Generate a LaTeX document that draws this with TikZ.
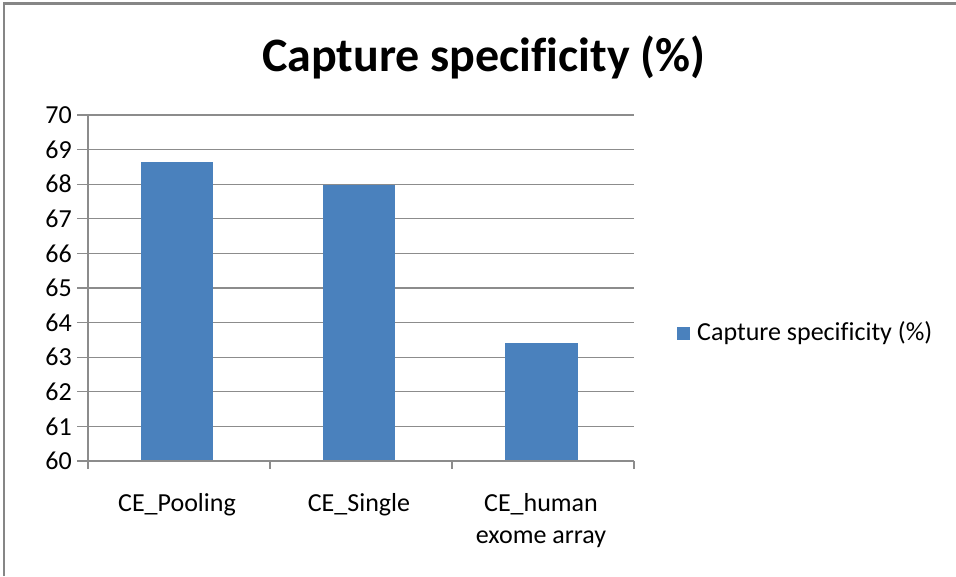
\documentclass[tikz,border=0pt]{standalone}
\usepackage{fontspec}
\setmainfont{Carlito}[Ligatures=NoCommon]
\definecolor{barblue}{HTML}{4A81BD}
\definecolor{gridgray}{HTML}{8C8C8C}
\definecolor{framegray}{HTML}{868686}
\begin{document}
\begin{tikzpicture}[x=1pt,y=-1pt,
  grid/.style={draw=gridgray,line width=1.3pt},
  ticklab/.style={anchor=east,inner sep=0pt,font=\fontsize{26}{28}\selectfont},
  catlab/.style={anchor=base,inner sep=0pt,font=\fontsize{26}{32}\selectfont,align=center},
  title/.style={font=\fontsize{48}{52}\selectfont\bfseries,inner sep=0pt}]
\useasboundingbox (0,0) rectangle (956,576);
\fill[white] (0,0) rectangle (956,576);
\draw[framegray,line width=2.5pt] (4,576) -- (4,3.5) -- (956,3.5);
\node[title] (t) at (484,57) {Capture specificity (\%)};
% gridlines
\foreach \v in {60,...,70}{
  \coordinate (g\v) at (77,{461-(\v-60)*34.6});
  \draw[grid] (g\v) -- ++(557,0);
  \node[ticklab] (l\v) at (72,{461-(\v-60)*34.6}) {\v};
}
\draw[grid] (88,115) -- (88,469);
\foreach \x in {270,452,634}{ \draw[grid] (\x,461) -- (\x,469); }
% bars
\fill[barblue] (141,{461-8.63*34.6}) rectangle (213,460);
\fill[barblue] (323,{461-7.99*34.6}) rectangle (395,460);
\fill[barblue] (505,{461-3.41*34.6}) rectangle (578,460);
\draw[grid] (77,461) -- (634,461);
% category labels
\node[catlab] (c1) at (177,511) {CE\_Pooling};
\node[catlab] (c2) at (359,511) {CE\_Single};
\node[catlab] (c3) at (541,543) {CE\_human\\exome array};
% legend
\fill[barblue] (677,327) rectangle (690,340);
\node[anchor=west,inner sep=0pt,font=\fontsize{26}{28}\selectfont] (leg) at (697,333) {Capture specificity (\%)};
\end{tikzpicture}
\end{document}
